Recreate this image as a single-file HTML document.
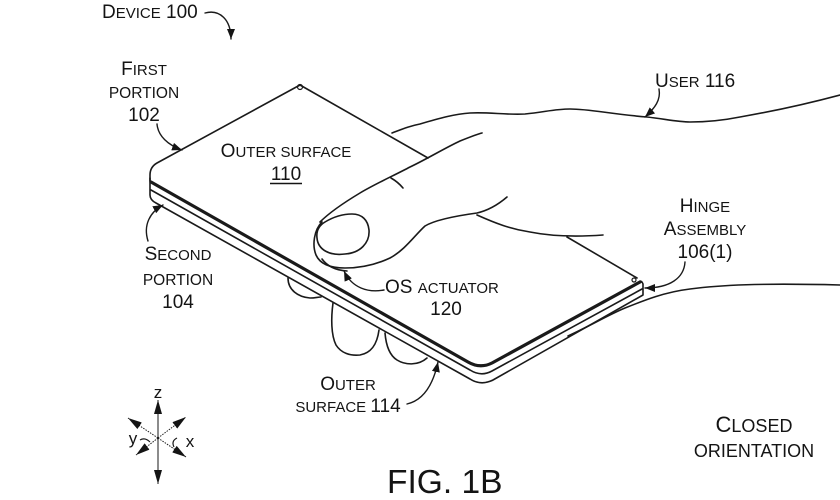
<!DOCTYPE html>
<html>
<head>
<meta charset="utf-8">
<style>
html,body{margin:0;padding:0;background:#fff;}
svg{display:block;}
text{font-family:"Liberation Sans",Arial,sans-serif;fill:#141414;}
</style>
</head>
<body>
<svg width="840" height="500" viewBox="0 0 840 500" xmlns="http://www.w3.org/2000/svg">
<defs>
<marker id="ah" viewBox="0 0 10 8" refX="10" refY="4" markerWidth="10" markerHeight="8" markerUnits="userSpaceOnUse" orient="auto">
<path d="M0,0 L10,4 L0,8 z" fill="#141414"/>
</marker>
<marker id="ax" viewBox="0 0 14 8" refX="14" refY="4" markerWidth="14" markerHeight="8" markerUnits="userSpaceOnUse" orient="auto">
<path d="M0,0 L14,4 L0,8 z" fill="#141414"/>
</marker>
</defs>
<rect width="840" height="500" fill="#fff"/>

<g fill="none" stroke="#1a1a1a" stroke-width="1.6" stroke-linecap="round" stroke-linejoin="round">
<!-- device top face -->
<path d="M300,85 L157,163 Q150,167 150,175 L150,181"/>
<path d="M300,85 L428,158"/>
<path d="M567,237 L637,278"/>
<circle cx="300" cy="87" r="2.5" stroke-width="1.2"/>
<circle cx="634" cy="280" r="2" stroke-width="1.2"/>
<!-- layers -->
<path d="M151,182 L468,362 Q480,369 492,363 L640,282" stroke-width="3.2"/>
<path d="M151,190 L470,370 Q481,377 492,371 L642,289"/>
<path d="M150,178 L150,195 Q150,200 156,203 L470,379 Q481,386 493,380 L643,295 L643,284 Q642,281 640,281"/>

<!-- arm top -->
<path d="M392,133 C405,128 410,126 420,124 C440,118 455,114 470,113 C490,112 505,115 525,114 C545,112 555,109 570,109 C590,109 610,114 647,117 C665,119 677,122 690,122 C710,122 725,120 740,117 C780,110 810,103 840,95"/>
<!-- thumb upper contour -->
<path d="M320,222 C330,212 345,202 360,193 C375,184 395,175 410,167 C425,160 445,148 460,141 C470,137 478,134 482,133"/>
<!-- crease -->
<path d="M391,178 Q398,182 403,188"/>
<!-- thumbnail -->
<path d="M325,222 C335,216 345,214 352,214 C362,214 368,220 369,230 C370,243 360,253 345,254 C330,256 318,250 317,238 C316,230 320,225 325,222 Z"/>
<!-- thumb outer / lower contour -->
<path d="M322,222 C314,230 312,245 316,255 C320,264 330,268 345,268 C360,268 375,265 390,258 C405,250 415,235 425,226 C435,220 455,216 477,213 C490,210 500,203 507,197"/>
<path d="M322,259 Q330,270 347,271"/>
<!-- palm lower line -->
<path d="M477,215 C495,223 510,229 530,232 C550,236 575,237 603,235"/>
<!-- hand under device right -->
<path d="M568,336 C590,326 608,315 625,308 C645,300 665,292 690,289 C720,285 760,283 840,285"/>
<!-- fingers under device -->
<path d="M288,278 C288,290 298,297 310,298 C315,298 318,297 321,297"/>
<path d="M333,303 C331,318 331,335 336,345 C341,353 350,356 360,355 C371,353 377,345 379,330"/>
<path d="M385,333 C386,345 389,355 397,360 C405,365 418,366 427,358"/>

<!-- leader arrows -->
<path d="M205,13 C220,9 231,20 231,39" stroke-width="1.4" marker-end="url(#ah)"/>
<path d="M157,124 C158,136 168,145 182,150" stroke-width="1.4" marker-end="url(#ah)"/>
<path d="M148,241 C143,225 150,212 163,205" stroke-width="1.4" marker-end="url(#ah)"/>
<path d="M659,89 C661,100 655,108 645,117" stroke-width="1.4" marker-end="url(#ah)"/>
<path d="M384,290 C368,293 352,288 344,271" stroke-width="1.4" marker-end="url(#ah)"/>
<path d="M685,262 C684,278 670,288 645,288" stroke-width="1.4" marker-end="url(#ah)"/>
<path d="M407,404 C420,401 432,390 438,362" stroke-width="1.4" marker-end="url(#ah)"/>
</g>

<!-- axis symbol -->
<g fill="none" stroke="#1a1a1a" stroke-width="1">
<path d="M158,440 L158,400" marker-end="url(#ax)"/>
<path d="M158,436 L158,484" marker-end="url(#ax)"/>
</g>
<g fill="none" stroke="#1a1a1a" stroke-width="1" stroke-dasharray="1.5,1.2">
<path d="M158,438 L128,418" marker-end="url(#ax)"/>
<path d="M158,438 L186,457" marker-end="url(#ax)"/>
<path d="M158,438 L186,417" marker-end="url(#ax)"/>
<path d="M158,438 L136,455" marker-end="url(#ax)"/>
</g>
<g fill="none" stroke="#1a1a1a" stroke-width="1.2">
<path d="M140,440 Q145,437 150,442"/>
<path d="M177,438 Q171,441 174,447"/>
</g>
<text x="158" y="398" font-size="17" text-anchor="middle">z</text>
<text x="133" y="444" font-size="17" text-anchor="middle">y</text>
<text x="190" y="447" font-size="17" text-anchor="middle">x</text>

<!-- labels -->
<text x="102" y="18" font-size="19">D<tspan font-size="15">EVICE</tspan> 100</text>
<text x="144" y="75" font-size="19" text-anchor="middle">F<tspan font-size="15">IRST</tspan></text>
<text x="144" y="98" font-size="15.5" text-anchor="middle">PORTION</text>
<text x="144" y="121" font-size="19" text-anchor="middle">102</text>

<text x="286" y="157" font-size="19" text-anchor="middle">O<tspan font-size="15">UTER SURFACE</tspan></text>
<text x="286" y="180" font-size="19" text-anchor="middle">110</text>
<line x1="270" y1="183.5" x2="302" y2="183.5" stroke="#141414" stroke-width="1.5"/>

<text x="655" y="87" font-size="19">U<tspan font-size="15">SER</tspan> 116</text>

<text x="705" y="212" font-size="19" text-anchor="middle">H<tspan font-size="15">INGE</tspan></text>
<text x="705" y="235" font-size="19" text-anchor="middle">A<tspan font-size="15">SSEMBLY</tspan></text>
<text x="705" y="258" font-size="19" text-anchor="middle">106(1)</text>

<text x="178" y="260" font-size="19" text-anchor="middle">S<tspan font-size="15">ECOND</tspan></text>
<text x="178" y="285" font-size="15.5" text-anchor="middle">PORTION</text>
<text x="178" y="308" font-size="19" text-anchor="middle">104</text>

<text x="385" y="293" font-size="19">OS <tspan font-size="15">ACTUATOR</tspan></text>
<text x="446" y="315" font-size="19" text-anchor="middle">120</text>

<text x="348" y="390" font-size="19" text-anchor="middle">O<tspan font-size="15">UTER</tspan></text>
<text x="348" y="412" font-size="15" text-anchor="middle">SURFACE <tspan font-size="19">114</tspan></text>

<text x="754" y="432" font-size="22" text-anchor="middle">C<tspan font-size="18">LOSED</tspan></text>
<text x="754" y="457" font-size="18" text-anchor="middle">ORIENTATION</text>

<text x="387" y="493" font-size="33.5">FIG. 1B</text>
</svg>
</body>
</html>
